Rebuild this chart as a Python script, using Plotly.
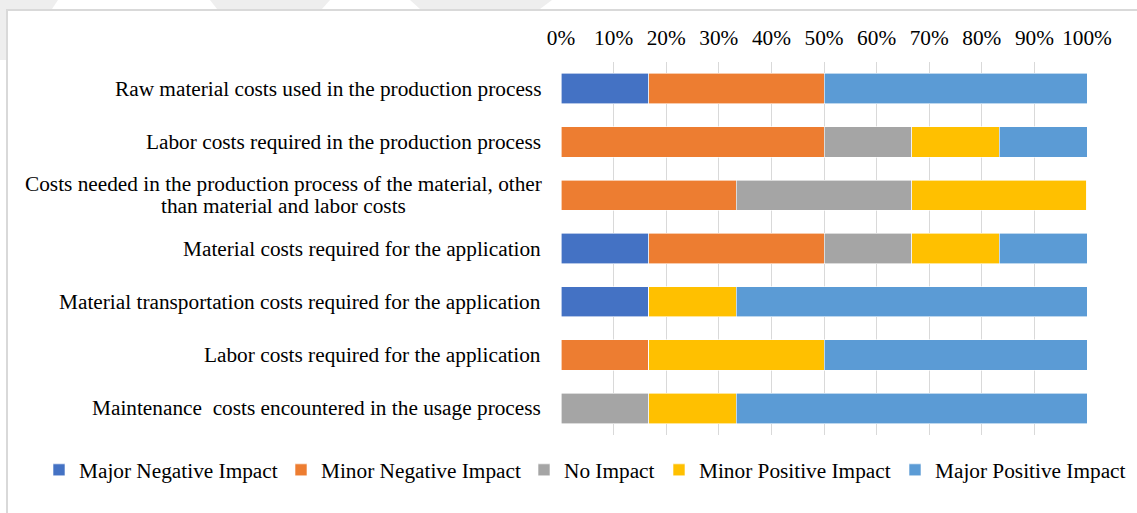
import plotly.graph_objects as go

categories = [
    "Raw material costs used in the production process",
    "Labor costs required in the production process",
    "Costs needed in the production process of the material, other<br>than material and labor costs",
    "Material costs required for the application",
    "Material transportation costs required for the application",
    "Labor costs required for the application",
    "Maintenance  costs encountered in the usage process",
]
series_names = ["Major Negative Impact", "Minor Negative Impact", "No Impact",
                "Minor Positive Impact", "Major Positive Impact"]
major_negative = [16.67, 0, 0, 16.67, 16.67, 0, 0]
minor_negative = [33.33, 50.0, 33.33, 33.33, 0, 16.67, 0]
no_impact = [0, 16.67, 33.33, 16.67, 0, 0, 16.67]
minor_positive = [0, 16.67, 33.33, 16.67, 16.67, 33.33, 16.67]
major_positive = [50.0, 16.67, 0, 16.67, 66.67, 50.0, 66.67]
tick_values = [0, 10, 20, 30, 40, 50, 60, 70, 80, 90, 100]
tick_labels = ["0%", "10%", "20%", "30%", "40%", "50%", "60%", "70%", "80%", "90%", "100%"]

colors = ["#4472C4", "#ED7D31", "#A5A5A5", "#FFC000", "#5B9BD5"]
values = [major_negative, minor_negative, no_impact, minor_positive, major_positive]
# left x (px) of each legend entry's text in the figure
legend_text_x = [79, 321, 564, 699, 935]

W, H = 1137, 513
FONT = "Liberation Serif, Times New Roman, serif"
FS = 21.3
TEXTGAP = 30  # itemwidth 30 + 2*itemGap 5 + indentation -10
LABEL_SHIFT = -18          # gap between label right edge and the axis
MULTILINE_HALF_WIDTH = 258.5  # half width of the widest line of the wrapped label

fig = go.Figure()
legend_layouts = {}
for k, (name, vals, col) in enumerate(zip(series_names, values, colors)):
    lname = "legend" if k == 0 else f"legend{k + 1}"
    fig.add_trace(go.Bar(
        y=list(range(len(categories))), x=vals, name=name, orientation="h",
        marker=dict(color=col, line=dict(color="white", width=0.6)),
        legend=lname,
    ))
    legend_layouts[lname] = dict(
        orientation="h", xref="container", yref="container",
        x=(legend_text_x[k] - TEXTGAP) / W, xanchor="left",
        y=1 - 470 / H, yanchor="middle",
        font=dict(family=FONT, size=FS, color="black"),
        bgcolor="rgba(0,0,0,0)", itemwidth=30, indentation=-10,
    )

annotations = []
LINE_H = 22
for i, c in enumerate(categories):
    lines = c.split("<br>")
    n = len(lines)
    for j, ln in enumerate(lines):
        if n == 1:
            xa, xs = "right", LABEL_SHIFT
        else:
            xa, xs = "center", LABEL_SHIFT - 1 - MULTILINE_HALF_WIDTH
        annotations.append(dict(
            x=0, xref="paper", xshift=xs, y=i, yref="y",
            yshift=((n - 1) / 2 - j) * LINE_H,
            text=ln, showarrow=False,
            xanchor=xa, yanchor="middle", align="center",
            font=dict(family=FONT, size=FS, color="black"),
        ))

fig.update_layout(
    barmode="stack",
    bargap=0.43,
    width=W, height=H,
    margin=dict(l=561, r=50, t=62, b=78, autoexpand=False),
    paper_bgcolor="white", plot_bgcolor="white",
    font=dict(family=FONT, size=FS, color="black"),
    xaxis=dict(side="top", range=[0, 100], tickvals=tick_values, ticktext=tick_labels,
               showgrid=True, gridcolor="#D9D9D9", gridwidth=1, zeroline=False,
               showline=False, ticks="", ticklabelstandoff=12,
               tickfont=dict(family=FONT, size=FS), automargin=False),
    yaxis=dict(range=[len(categories) - 0.5, -0.5], showticklabels=False,
               showgrid=False, zeroline=False, ticks="", automargin=False),
    annotations=annotations,
    showlegend=True,
    **legend_layouts,
)

# chart frame and faint watermark fragments above it
def px(xp):
    return (xp - 561) / 526

def py(yp):
    return (435 - yp) / 373

fig.add_shape(type="rect", xref="paper", yref="paper", x0=px(7), x1=px(1200),
              y0=py(600), y1=py(10), line=dict(color="#D9D9D9", width=2), layer="below")
for x0, x1, x2, x3 in [(-5, 58, 52, -5), (210, 330, 322, 217), (410, 552, 540, 420)]:
    fig.add_shape(type="path", xref="paper", yref="paper",
                  path=f"M{px(x0)},{py(0)} L{px(x1)},{py(0)} L{px(x2)},{py(9)} L{px(x3)},{py(9)} Z",
                  fillcolor="#EEEEEE", line=dict(width=0), layer="below")
fig.add_shape(type="path", xref="paper", yref="paper",
              path=f"M{px(0)},{py(9)} L{px(6)},{py(9)} L{px(6)},{py(60)} L{px(0)},{py(60)} Z",
              fillcolor="#EEEEEE", line=dict(width=0), layer="below")

fig.write_html("out.html", config={"displayModeBar": False},
               post_script="document.body.style.margin='0';")
